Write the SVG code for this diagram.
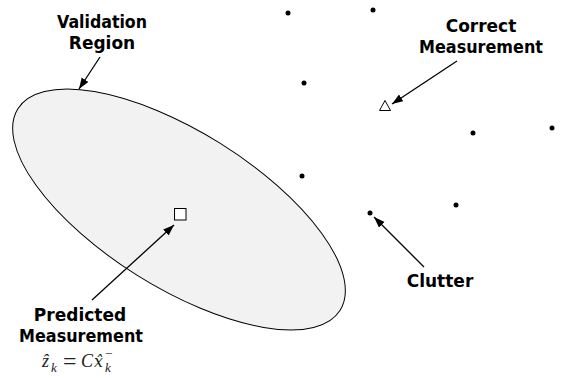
<svg xmlns="http://www.w3.org/2000/svg" width="561" height="378" viewBox="0 0 561 378">
<style>
.lbl{font-family:"DejaVu Sans",Verdana,sans-serif;font-weight:bold;font-size:17px;fill:#000;text-anchor:middle}
.math{font-family:"Liberation Serif","DejaVu Serif",serif;font-style:italic;fill:#222}
.dot{fill:#000}
.conn{stroke:#000;stroke-width:1.3;fill:none;marker-end:url(#ah)}
</style>
<defs>
<marker id="ah" markerUnits="userSpaceOnUse" markerWidth="12" markerHeight="10" refX="11" refY="4" orient="auto">
<path d="M0,0 L11,4 L0,8 Z" fill="#000"/>
</marker>
</defs>
<rect width="561" height="378" fill="#fff"/>
<g id="validation-region">
<ellipse cx="179" cy="209.5" rx="190" ry="78" transform="rotate(32 179 209.5)" fill="#f2f2f2" stroke="#000" stroke-width="1"/>
</g>
<g id="predicted">
<rect x="174.5" y="208.5" width="11.5" height="11.5" fill="#fff" stroke="#000" stroke-width="1"/>
</g>
<g id="correct">
<polygon points="385,100.5 379.5,110.5 390.5,110.5" fill="#fff" stroke="#000" stroke-width="1"/>
</g>
<g id="clutter">
<circle class="dot" cx="288" cy="13" r="2.5"/>
<circle class="dot" cx="373" cy="10" r="2.5"/>
<circle class="dot" cx="304" cy="83" r="2.5"/>
<circle class="dot" cx="473" cy="133" r="2.5"/>
<circle class="dot" cx="552" cy="128" r="2.5"/>
<circle class="dot" cx="302" cy="176" r="2.5"/>
<circle class="dot" cx="456" cy="205" r="2.5"/>
<circle class="dot" cx="370" cy="213" r="2.5"/>
</g>
<g id="connectors">
<line class="conn" x1="100" y1="57" x2="79" y2="89"/>
<line class="conn" x1="457" y1="61" x2="392" y2="104"/>
<line class="conn" x1="92" y1="300" x2="174" y2="225"/>
<line class="conn" x1="424" y1="267" x2="374" y2="217"/>
</g>
<g id="labels">
<text class="lbl" x="102" y="28" textLength="90" lengthAdjust="spacingAndGlyphs">Validation</text>
<text class="lbl" x="102" y="49">Region</text>
<text class="lbl" x="481" y="32">Correct</text>
<text class="lbl" x="481" y="53" textLength="124" lengthAdjust="spacingAndGlyphs">Measurement</text>
<text class="lbl" x="440" y="287">Clutter</text>
<text class="lbl" x="80" y="321">Predicted</text>
<text class="lbl" x="81" y="342" textLength="124" lengthAdjust="spacingAndGlyphs">Measurement</text>
<text class="math" font-size="18"><tspan x="42" y="367">ẑ</tspan><tspan x="51" y="372" font-size="13">k</tspan><tspan x="63" y="369" font-size="24" font-style="normal">=</tspan><tspan x="81" y="367">C</tspan><tspan x="94" y="367" font-family="'DejaVu Serif',serif" font-size="16">x̂</tspan><tspan x="105" y="372" font-size="13">k</tspan><tspan x="105" y="358" font-size="13" font-style="normal">−</tspan></text>
</g>
</svg>
